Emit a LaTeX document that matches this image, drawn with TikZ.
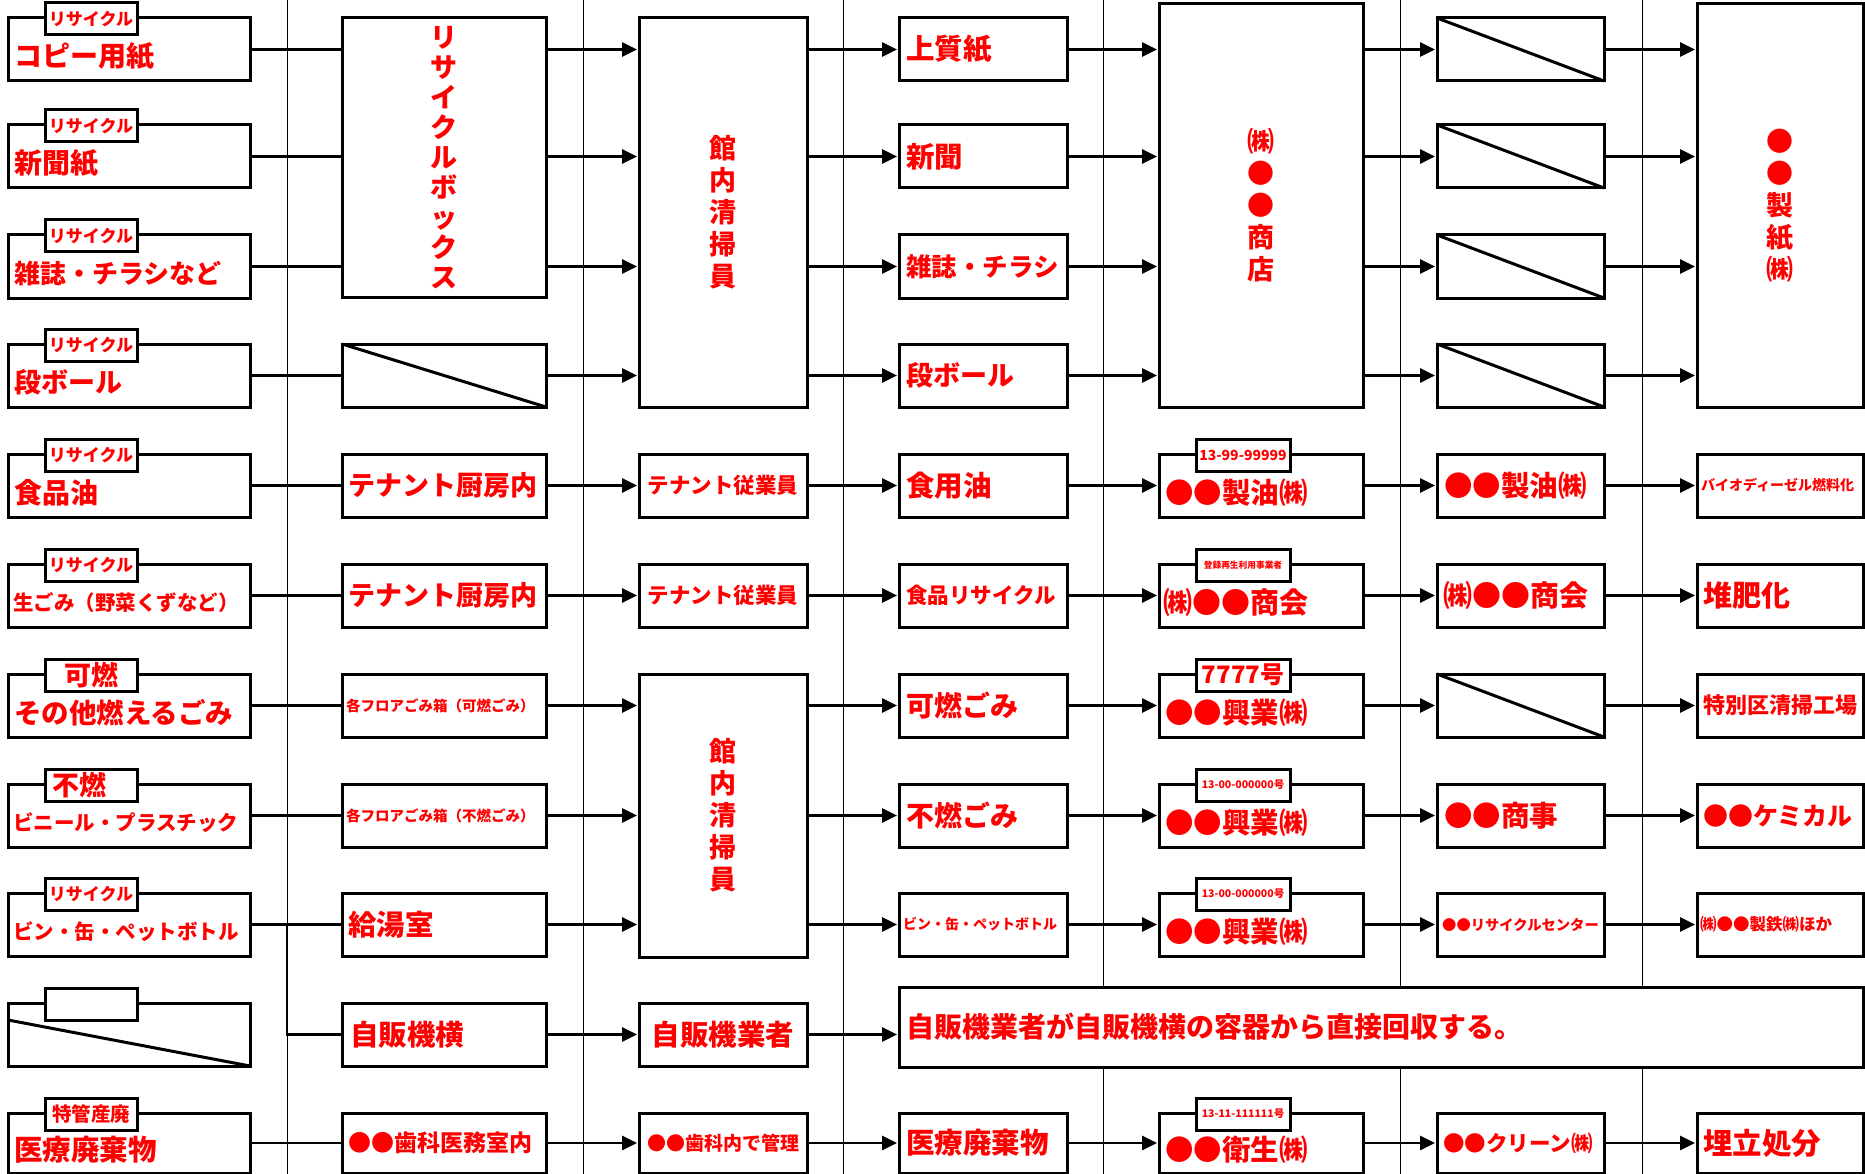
\documentclass[tikz,border=0pt]{standalone}
\usepackage{fontspec}
\setmainfont{Noto Sans CJK JP}
\usetikzlibrary{arrows.meta}
\tikzset{
  bx/.style={draw, line width=3pt, fill=white, inner sep=0pt, outer sep=0pt, anchor=north west},
  lbl/.style={text=red, inner sep=0pt, font=\bfseries\fontsize{#1pt}{#1pt}\selectfont},
  vlbl/.style={text=red, inner sep=0pt, align=center, font=\bfseries\fontsize{27pt}{#1pt}\selectfont},
  conn/.style={line width=2.8pt},
  arr/.style={line width=2.8pt, -{Triangle[length=15pt,width=14pt]}, shorten >=2pt},
  vln/.style={line width=1pt},
  dg/.style={line width=3pt},
}
\begin{document}
\begin{tikzpicture}[x=1pt,y=-1pt]
\fill[white] (0,0) rectangle (1865,1174);
\useasboundingbox (0,0) rectangle (1865,1174);
% thin column separators
\foreach \x [count=\k] in {287,583,843,1103,1400,1642}
  \draw[vln] (\x,0) coordinate (vt\k) -- (\x,1174) coordinate (vb\k);
% ---------- column 1
\foreach \i/\t in {1/18,2/125,3/235,4/344,5/454,6/564,7/674,8/784,9/893,10/1003}
  \node[bx, minimum width=242pt, minimum height=63pt] (a\i) at (8,\t) {};
\node[bx, minimum width=242pt, minimum height=60pt] (a11) at (8,1113) {};
\foreach \i/\t in {1/3,2/110,3/220,4/329,5/439,6/549,7/659,8/769,9/878,10/988,11/1098}
  \node[bx, minimum width=92pt, minimum height=32pt] (ta\i) at (45,\t) {};
% ---------- column 2
\node[bx, minimum width=204pt, minimum height=279pt] (rbox) at (342,18) {};
\foreach \i/\t in {4/344,5/454,6/564,7/674,8/784,9/893,10/1003}
  \node[bx, minimum width=204pt, minimum height=63pt] (b\i) at (342,\t) {};
\node[bx, minimum width=204pt, minimum height=60pt] (b11) at (342,1113) {};
% ---------- column 3
\node[bx, minimum width=168pt, minimum height=389pt] (sA) at (639,18) {};
\node[bx, minimum width=168pt, minimum height=63pt] (c5) at (639,454) {};
\node[bx, minimum width=168pt, minimum height=63pt] (c6) at (639,564) {};
\node[bx, minimum width=168pt, minimum height=283pt] (sB) at (639,674) {};
\node[bx, minimum width=168pt, minimum height=63pt] (c10) at (639,1003) {};
\node[bx, minimum width=168pt, minimum height=60pt] (c11) at (639,1113) {};
% ---------- column 4
\foreach \i/\t in {1/18,2/125,3/235,4/344,5/454,6/564,7/674,8/784,9/893}
  \node[bx, minimum width=168pt, minimum height=63pt] (d\i) at (899,\t) {};
\node[bx, minimum width=964pt, minimum height=80pt] (wide) at (899,987) {};
\node[bx, minimum width=168pt, minimum height=60pt] (d11) at (899,1113) {};
% ---------- column 5
\node[bx, minimum width=204pt, minimum height=403pt] (sC) at (1159,4) {};
\foreach \i/\t in {5/454,6/564,7/674,8/784,9/893}
  \node[bx, minimum width=204pt, minimum height=63pt] (e\i) at (1159,\t) {};
\node[bx, minimum width=204pt, minimum height=60pt] (e11) at (1159,1113) {};
\foreach \i/\t in {5/439,6/549,7/659,8/769,9/878,11/1098}
  \node[bx, minimum width=94pt, minimum height=32pt] (te\i) at (1196,\t) {};
% ---------- column 6
\foreach \i/\t in {1/18,2/125,3/235,4/344,5/454,6/564,7/674,8/784,9/893}
  \node[bx, minimum width=167pt, minimum height=63pt] (f\i) at (1437,\t) {};
\node[bx, minimum width=167pt, minimum height=60pt] (f11) at (1437,1113) {};
% ---------- column 7
\node[bx, minimum width=166pt, minimum height=403pt] (sD) at (1697,4) {};
\foreach \i/\t in {5/454,6/564,7/674,8/784,9/893}
  \node[bx, minimum width=166pt, minimum height=63pt] (g\i) at (1697,\t) {};
\node[bx, minimum width=166pt, minimum height=60pt] (g11) at (1697,1113) {};
% ---------- diagonals
\draw[dg] (b4.north west) -- (b4.south east);
\foreach \i in {1,2,3,4,7} \draw[dg] (f\i.north west) -- (f\i.south east);
\draw[dg] (a10.west |- ta10.south) -- (a10.south east);
% ---------- column 1 labels
\foreach \i in {1,2,3,4,5,6,9} \node[lbl=17] (tl\i) at (ta\i) {リサイクル};
\node[lbl=27] (tl7) at (ta7) {可燃};
\node[lbl=27, anchor=west] (tl8) at (52,785) {不燃};
\node[lbl=19.5] (tl11) at (ta11) {特管産廃};
\node[lbl=28, anchor=west] (l1) at (14,56.5) {コピー用紙};
\node[lbl=28, anchor=west] (l2) at (14,163.5) {新聞紙};
\node[lbl=26, anchor=west] (l3) at (14,273.5) {雑誌・チラシなど};
\node[lbl=27, anchor=west] (l4) at (14,382.5) {段ボール};
\node[lbl=28, anchor=west] (l5) at (14,492.5) {食品油};
\node[lbl=20.5, anchor=west] (l6) at (13,602.5) {生ごみ（野菜くずなど）};
\node[lbl=27.5, anchor=west] (l7) at (14,712.5) {その他燃えるごみ};
\node[lbl=20.5, anchor=west] (l8) at (13,822.5) {ビニール・プラスチック};
\node[lbl=20.5, anchor=west] (l9) at (13,931.5) {ビン・缶・ペットボトル};
\node[lbl=28.5, anchor=west] (l11) at (14,1150) {医療廃棄物};
% ---------- column 2 labels
\node[vlbl=30] (lr) at (rbox) {リ\\サ\\イ\\ク\\ル\\ボ\\ッ\\ク\\ス};
\node[lbl=27, anchor=west] (m5) at (348,485.5) {テナント厨房内};
\node[lbl=27, anchor=west] (m6) at (348,595.5) {テナント厨房内};
\node[lbl=14.5, anchor=west] (m7) at (346,705.5) {各フロアごみ箱（可燃ごみ）};
\node[lbl=14.5, anchor=west] (m8) at (346,815.5) {各フロアごみ箱（不燃ごみ）};
\node[lbl=28.5, anchor=west] (m9) at (348,924.5) {給湯室};
\node[lbl=28.5, anchor=west] (m10) at (350,1034.5) {自販機横};
\node[lbl=23, anchor=west] (m11) at (348,1143) {●●歯科医務室内};
% ---------- column 3 labels
\node[vlbl=32] (nA) at (sA) {館\\内\\清\\掃\\員};
\node[vlbl=32] (nB) at (sB) {館\\内\\清\\掃\\員};
\node[lbl=21.5] (n5) at (c5) {テナント従業員};
\node[lbl=21.5] (n6) at (c6) {テナント従業員};
\node[lbl=28.5] (n10) at (c10) {自販機業者};
\node[lbl=19] (n11) at (c11) {●●歯科内で管理};
% ---------- column 4 labels
\node[lbl=28.5, anchor=west] (o1) at (906,49.5) {上質紙};
\node[lbl=28.5, anchor=west] (o2) at (906,156.5) {新聞};
\node[lbl=25.5, anchor=west] (o3) at (906,266.5) {雑誌・チラシ};
\node[lbl=27, anchor=west] (o4) at (906,375.5) {段ボール};
\node[lbl=28.5, anchor=west] (o5) at (906,485.5) {食用油};
\node[lbl=21.5, anchor=west] (o6) at (906,595.5) {食品リサイクル};
\node[lbl=28, anchor=west] (o7) at (906,705.5) {可燃ごみ};
\node[lbl=28, anchor=west] (o8) at (906,815.5) {不燃ごみ};
\node[lbl=14, anchor=west] (o9) at (903,924.5) {ビン・缶・ペットボトル};
\node[lbl=28, anchor=west] (o10) at (906,1027) {自販機業者が自販機横の容器から直接回収する。};
\node[lbl=28.5, anchor=west] (o11) at (906,1143) {医療廃棄物};
% ---------- column 5 labels
\node[vlbl=32] (pC) at (sC) {㈱\\●\\●\\商\\店};
\node[lbl=14] (tp5) at (te5) {13-99-99999};
\node[lbl=8.7] (tp6) at (te6) {登録再生利用事業者};
\node[lbl=24] (tp7) at (te7) {7777号};
\node[lbl=10.5] (tp8) at (te8) {13-00-000000号};
\node[lbl=10.5] (tp9) at (te9) {13-00-000000号};
\node[lbl=10.5] (tp11) at (te11) {13-11-111111号};
\node[lbl=28.5, anchor=west] (p5) at (1165,492.5) {●●製油㈱};
\node[lbl=29, anchor=west] (p6) at (1163,602.5) {㈱●●商会};
\node[lbl=28.5, anchor=west] (p7) at (1165,712.5) {●●興業㈱};
\node[lbl=28.5, anchor=west] (p8) at (1165,822.5) {●●興業㈱};
\node[lbl=28.5, anchor=west] (p9) at (1165,931.5) {●●興業㈱};
\node[lbl=28.5, anchor=west] (p11) at (1165,1150) {●●衛生㈱};
% ---------- column 6 labels
\node[lbl=28.5, anchor=west] (q5) at (1444,485.5) {●●製油㈱};
\node[lbl=29, anchor=west] (q6) at (1443,595.5) {㈱●●商会};
\node[lbl=28.5, anchor=west] (q8) at (1444,815.5) {●●商事};
\node[lbl=14.3, anchor=west] (q9) at (1442,924.5) {●●リサイクルセンター};
\node[lbl=21.5, anchor=west] (q11) at (1443,1143) {●●クリーン㈱};
% ---------- column 7 labels
\node[vlbl=32] (rD) at (sD) {●\\●\\製\\紙\\㈱};
\node[lbl=14, anchor=west] (r5) at (1701,485.5) {バイオディーゼル燃料化};
\node[lbl=29, anchor=west] (r6) at (1703,595.5) {堆肥化};
\node[lbl=22, anchor=west] (r7) at (1703,705.5) {特別区清掃工場};
\node[lbl=25, anchor=west] (r8) at (1703,815.5) {●●ケミカル};
\node[lbl=16.5, anchor=west] (r9) at (1700,924.5) {㈱●●製鉄㈱ほか};
\node[lbl=29.5, anchor=west] (r11) at (1703,1143) {埋立処分};
% ---------- connectors column 1 -> 2
\foreach \i in {1,2,3} \draw[conn] (a\i.east) -- (a\i.east -| rbox.west);
\foreach \i in {4,5,6,7,8,9,11} \draw[conn] (a\i.east) -- (b\i.west);
\draw[conn] (a9.east -| vt1) |- (b10.west);
% ---------- column 2 -> 3
\foreach \i in {1,2,3} \draw[arr] (rbox.east |- a\i.east) -- (sA.west |- a\i.east);
\draw[arr] (b4.east) -- (sA.west |- b4.east);
\foreach \i in {5,6,10,11} \draw[arr] (b\i.east) -- (c\i.west);
\foreach \i in {7,8,9} \draw[arr] (b\i.east) -- (sB.west |- b\i.east);
% ---------- column 3 -> 4
\foreach \i in {1,2,3,4} \draw[arr] (sA.east |- d\i.west) -- (d\i.west);
\foreach \i in {5,6,11} \draw[arr] (c\i.east) -- (d\i.west);
\foreach \i in {7,8,9} \draw[arr] (sB.east |- d\i.west) -- (d\i.west);
\draw[arr] (c10.east) -- (wide.west |- c10.east);
% ---------- column 4 -> 5
\foreach \i in {1,2,3,4} \draw[arr] (d\i.east) -- (sC.west |- d\i.east);
\foreach \i in {5,6,7,8,9,11} \draw[arr] (d\i.east) -- (e\i.west);
% ---------- column 5 -> 6
\foreach \i in {1,2,3,4} \draw[arr] (sC.east |- f\i.west) -- (f\i.west);
\foreach \i in {5,6,7,8,9,11} \draw[arr] (e\i.east) -- (f\i.west);
% ---------- column 6 -> 7
\foreach \i in {1,2,3,4} \draw[arr] (f\i.east) -- (sD.west |- f\i.east);
\foreach \i in {5,6,7,8,9,11} \draw[arr] (f\i.east) -- (g\i.west);
\end{tikzpicture}
\end{document}
